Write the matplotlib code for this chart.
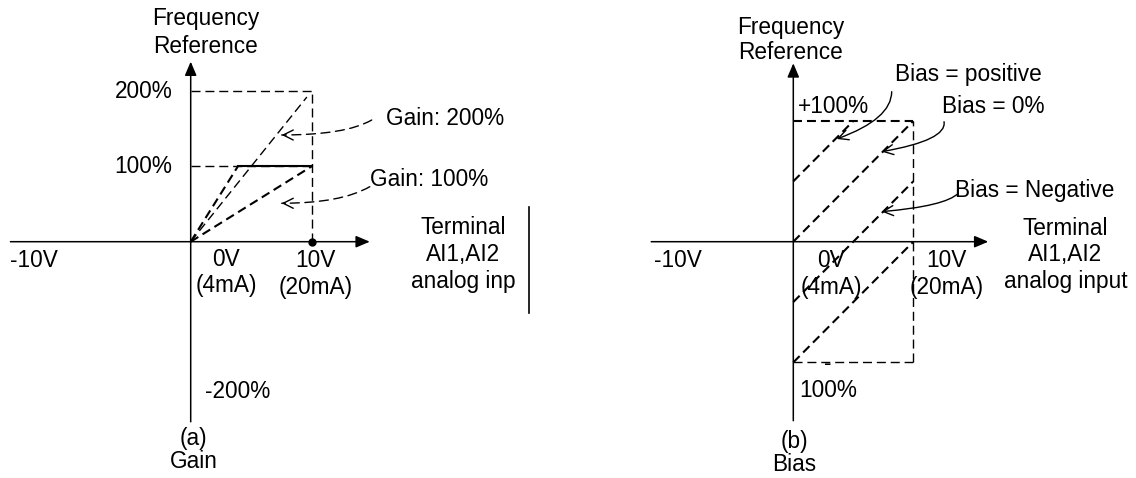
import matplotlib
matplotlib.use("Agg")
import matplotlib.pyplot as plt

W, H = 1136, 478
plt.rcParams["font.family"] = ["Liberation Sans", "DejaVu Sans"]
FS = 16.3

# ---- panel (a): gain ----------------------------------------------------
full_v = 10                      # 10V (20mA)
gain_levels = [200, 100]         # dashed reference levels, %
gain200_v = [0, 9.6]
gain200_pct = [0, 192]
gain100_v = [0, 10]
gain100_pct = [0, 100]
sat_v = [0, 3.9, 10]             # gain 200% clipped at 100%
sat_pct = [0, 100, 100]
gain_labels = ["Gain: 200%", "Gain: 100%"]
gain_label_pos = [(16.1, 163), (14.8, 83)]
gain_ptr_start = [(14.96, 161.5), (14.8, 73)]
gain_ptr_tip = [(7.52, 141.6), (7.52, 51)]

# ---- panel (b): bias ----------------------------------------------------
bias_names = ["positive", "0%", "negative", "-100%"]
bias_v = [[0, 5], [0, 10], [0, 10], [0, 10]]
bias_pct = [[50, 100], [0, 100], [-50, 50], [-100, 0]]
bias_labels = ["Bias = positive", "Bias = 0%", "Bias = Negative"]
bias_label_pos = [(8.44, 138.9), (12.43, 111.6), (13.49, 42.8)]
bias_ptr_start = [(8.2, 124.3), (12.56, 99.4), (13.75, 40.1)]
bias_ptr_tip = [(3.62, 85.1), (7.37, 74.6), (7.37, 24.9)]
bias_ptr_conn = ["angle3,angleA=90,angleB=20",
                 "angle3,angleA=100,angleB=10",
                 "angle3,angleA=45,angleB=5"]

THIN = dict(color="k", lw=1.0, linestyle=(0, (6.5, 3.5)), clip_on=False)
THICK = dict(color="k", lw=1.5, linestyle=(0, (4.3, 2.4)), clip_on=False)


def place(ax, ox, oy, sx, sy, xlim, ylim):
    # put data origin at pixel (ox, oy), sx px per volt, sy px per percent
    x0 = ox + sx * xlim[0]
    x1 = ox + sx * xlim[1]
    yt = oy - sy * ylim[1]
    yb = oy - sy * ylim[0]
    ax.set_position([x0 / W, 1 - yb / H, (x1 - x0) / W, (yb - yt) / H])
    ax.set_xlim(xlim)
    ax.set_ylim(ylim)
    ax.axis("off")


def axis_arrow(ax, tail, tip):
    ax.annotate("", xy=tip, xytext=tail, annotation_clip=False,
                arrowprops=dict(arrowstyle="-|>,head_length=0.4,head_width=0.17",
                                color="k", lw=1.1, mutation_scale=21,
                                shrinkA=0, shrinkB=0))


def pointer(ax, start, tip, conn, dashed=False):
    ls = (0, (6.5, 4)) if dashed else "-"
    ax.annotate("", xy=tip, xytext=start, annotation_clip=False,
                arrowprops=dict(arrowstyle="-" if dashed else "->,head_length=0.4,head_width=0.2",
                                color="k", lw=1.0, linestyle=ls, mutation_scale=18,
                                connectionstyle=conn, shrinkA=0, shrinkB=0))
    if dashed:
        # solid open head on the dashed leader
        ax.annotate("", xy=tip, xytext=(tip[0] + 0.3, tip[1]), annotation_clip=False,
                    arrowprops=dict(arrowstyle="->,head_length=0.4,head_width=0.2",
                                    color="k", lw=1.0, mutation_scale=18,
                                    shrinkA=0, shrinkB=0))


fig = plt.figure(figsize=(W / 100, H / 100), dpi=100)

# ---------------------------------------------------------------- (a)
ax = fig.add_axes([0, 0, 1, 1])
place(ax, 190.7, 241.7, 12.1, 0.7535, (-15.7, 31), (-310, 320))

axis_arrow(ax, (-14.9, 0), (14.8, 0))
axis_arrow(ax, (0, -239), (0, 239))

for lev in gain_levels:
    ax.plot([0, full_v], [lev, lev], **THIN)
ax.plot([full_v, full_v], [0, max(gain_levels)], **THIN)
ax.plot(gain200_v, gain200_pct, **THIN)
ax.plot(gain100_v, gain100_pct, **THICK)
ax.plot(sat_v[:2], sat_pct[:2], **THICK)
ax.plot(sat_v[1:], sat_pct[1:], color="k", lw=1.5, clip_on=False)
ax.plot([full_v], [0], "ko", ms=5, clip_on=False)

for lab, pos, st, tp in zip(gain_labels, gain_label_pos, gain_ptr_start, gain_ptr_tip):
    ax.text(pos[0], pos[1], lab, fontsize=FS, ha="left", va="center")
    pointer(ax, st, tp, "angle3,angleA=30,angleB=0", dashed=True)

ax.text(1.24, 277.6, "Frequency\nReference", fontsize=FS, ha="center", va="center", linespacing=1.25)
ax.text(-1.5, 200, "200%", fontsize=FS, ha="right", va="center")
ax.text(-1.5, 100, "100%", fontsize=FS, ha="right", va="center")
ax.text(-14.9, -24.3, "-10V", fontsize=FS, ha="left", va="center")
ax.text(2.92, -41, "0V\n(4mA)", fontsize=FS, ha="center", va="center", linespacing=1.2)
ax.text(10.35, -43, "10V\n(20mA)", fontsize=FS, ha="center", va="center", linespacing=1.2)
ax.text(3.87, -199, "-200%", fontsize=FS, ha="center", va="center")
ax.text(0.23, -277, "(a)\nGain", fontsize=FS, ha="center", va="center", linespacing=1.0)
ax.text(22.5, -17, "Terminal\nAI1,AI2\nanalog inp", fontsize=FS, ha="center", va="center",
        linespacing=1.2)
ax.plot([28.0, 28.0], [45.8, -94.8], color="k", lw=1.2, clip_on=False)

# ---------------------------------------------------------------- (b)
bx = fig.add_axes([0, 0, 1, 1])
place(bx, 793.3, 241.7, 12.0, 1.207, (-12.2, 28), (-195, 200))

axis_arrow(bx, (-11.84, 0), (16.25, 0))
axis_arrow(bx, (0, -148.3), (0, 147.8))

bx.plot([0, full_v], [100, 100], **THICK)
bx.plot([0, full_v], [-100, -100], **THIN)
bx.plot([full_v, full_v], [-100, 100], **THIN)
for v, p in zip(bias_v, bias_pct):
    bx.plot(v, p, **THICK)

for lab, pos, st, tp, cs in zip(bias_labels, bias_label_pos, bias_ptr_start,
                                bias_ptr_tip, bias_ptr_conn):
    bx.text(pos[0], pos[1], lab, fontsize=FS, ha="left", va="center")
    pointer(bx, st, tp, cs)

bx.text(-0.2, 167.1, "Frequency\nReference", fontsize=FS, ha="center", va="center", linespacing=1.15)
bx.text(0.42, 111.8, "+100%", fontsize=FS, ha="left", va="center")
bx.text(-11.63, -15.2, "-10V", fontsize=FS, ha="left", va="center")
bx.text(3.15, -26.8, "0V\n(4mA)", fontsize=FS, ha="center", va="center", linespacing=1.2)
bx.text(12.8, -26.8, "10V\n(20mA)", fontsize=FS, ha="center", va="center", linespacing=1.2)
bx.text(22.68, -11, "Terminal\nAI1,AI2\nanalog input", fontsize=FS, ha="center", va="center",
        linespacing=1.2)
bx.text(2.86, -100.7, "-", fontsize=FS, ha="center", va="center")
bx.text(0.48, -123.4, "100%", fontsize=FS, ha="left", va="center")
bx.text(0.08, -175.1, "(b)\nBias", fontsize=FS, ha="center", va="center", linespacing=1.0)

fig.savefig("out.png", dpi=100, facecolor="white")
